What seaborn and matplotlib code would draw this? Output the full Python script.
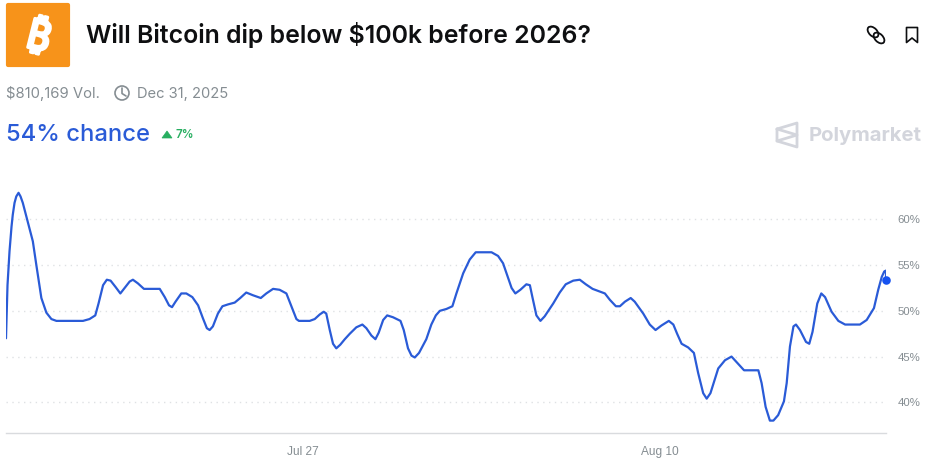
import numpy as np
import pandas as pd
import matplotlib
matplotlib.use('Agg')
import matplotlib.pyplot as plt
import matplotlib.dates as mdates
import matplotlib.patheffects as pe
import seaborn as sns
from matplotlib.patches import FancyBboxPatch, Circle, Ellipse, Polygon

# -------------------------------------------------
# data
# days relative to Jul 27, chance in percent
# -------------------------------------------------

days = [
    -12.07, -12.01, -11.93, -11.85, -11.80, -11.73, -11.66, -11.57, -11.49, -11.40,
    -11.20, -11.00, -10.86, -10.66, -10.46, -10.26, -10.06, -9.00, -8.74, -8.51,
    -8.38, -8.20,
    -8.05, -7.90, -7.70, -7.51, -7.34, -7.14, -7.01, -6.81, -6.57, -5.94,
    -5.74, -5.57, -5.45, -5.31, -5.08, -4.88, -4.64, -4.41, -4.22, -4.06,
    -3.95, -3.82, -3.62, -3.44, -3.22, -2.95, -2.73, -2.49, -2.22, -1.91,
    -1.69, -1.42, -1.16, -0.89, -0.69, -0.49, -0.39, 0.04,
    0.24, 0.44, 0.60, 0.70, 0.84, 0.97, 1.10, 1.26, 1.44, 1.64,
    1.90, 2.14, 2.30, 2.50, 2.66, 2.79, 2.97, 3.13, 3.36, 3.66,
    3.79, 3.96, 4.10, 4.23, 4.40, 4.69, 4.89, 5.07, 5.23, 5.49,
    5.73, 5.89, 6.16, 6.42, 6.66, 7.29, 7.55, 7.75, 7.95, 8.09,
    8.24, 8.44, 8.68, 8.82, 8.92, 9.08, 9.24, 9.41, 9.75, 10.01,
    10.25, 10.55, 10.81, 11.05, 11.32, 11.81, 12.01, 12.25,
    12.41, 12.61, 12.84, 13.00, 13.34, 13.60, 13.83, 14.07, 14.36, 14.54,
    14.69, 14.87, 15.13, 15.36, 15.53, 15.73, 15.87, 16.02, 16.33, 16.60,
    16.86, 17.06, 17.36, 17.93, 18.06, 18.22, 18.39, 18.53, 18.72, 18.95,
    19.06, 19.19, 19.33, 19.43, 19.59, 19.83, 19.96, 20.09, 20.28, 20.44,
    20.59, 20.85, 21.12, 21.39, 21.98, 22.25, 22.54, 22.71, 22.85, 22.95,
    23.02, 23.02,
]

chance = [
    47.0, 52.8, 56.5, 59.2, 60.5, 61.8, 62.5, 62.9, 62.5, 61.8,
    59.7, 57.6, 55.0, 51.4, 49.8, 49.1, 48.9, 48.9, 49.1, 49.5,
    50.8, 52.8,
    53.4, 53.3, 52.6, 51.9, 52.5, 53.2, 53.4, 53.0, 52.4, 52.4,
    51.5, 50.6, 50.4, 51.0, 51.9, 51.9, 51.5, 50.6, 49.2, 48.1,
    47.9, 48.3, 49.7, 50.5, 50.7, 50.9, 51.4, 52.0, 51.7, 51.4,
    51.9, 52.4, 52.3, 51.9, 50.5, 49.1, 48.9, 48.9,
    49.1, 49.6, 49.9, 49.7, 47.9, 46.4, 45.9, 46.3, 46.9, 47.5,
    48.2, 48.5, 48.1, 47.3, 46.9, 47.6, 49.0, 49.5, 49.3, 48.9,
    47.9, 45.9, 45.1, 44.9, 45.4, 46.9, 48.5, 49.5, 50.0, 50.2,
    50.5, 51.9, 54.1, 55.6, 56.4, 56.4, 56.0, 55.2, 53.6, 52.5,
    51.9, 52.3, 52.9, 52.8, 51.5, 49.5, 48.9, 49.4, 50.8, 52.0,
    52.9, 53.3, 53.4, 52.9, 52.4, 51.9, 51.2, 50.5,
    50.5, 51.0, 51.4, 51.0, 49.7, 48.5, 47.9, 48.4, 48.9, 48.5,
    47.5, 46.4, 46.0, 45.4, 43.2, 41.0, 40.4, 41.0, 43.7, 44.6,
    45.0, 44.4, 43.5, 43.5, 42.1, 39.5, 38.0, 38.0, 38.6, 40.1,
    42.1, 46.1, 48.3, 48.5, 47.9, 46.6, 46.4, 47.7, 50.8, 51.9,
    51.5, 49.9, 48.9, 48.5, 48.5, 49.0, 50.3, 52.3, 53.7, 54.3,
    54.4, 53.4,
]

y_ticks = [40, 45, 50, 55, 60]
x_tick_dates = ['2025-07-26 18:00', '2025-08-10 00:00']
x_tick_labels = ['Jul 27', 'Aug 10']

TITLE = 'Will Bitcoin dip below $100k before 2026?'

BLUE = '#2a5bd7'
DOT = '#1652f0'
GREY = '#858d92'
LOGO = '#d3d5dc'
INK = '#0e0f11'

W, H = 929, 461

# -------------------------------------------------
# chart
# -------------------------------------------------

sns.set_theme(style='white')
plt.rcParams['font.family'] = ['Inter', 'DejaVu Sans']

df = pd.DataFrame({
    'date': pd.Timestamp('2025-07-27') + pd.to_timedelta(days, unit='D'),
    'chance': chance,
})

fig = plt.figure(figsize=(W / 100, H / 100), dpi=100, facecolor='white')
ax = fig.add_axes([6 / W, (H - 432.5) / H, 880 / W, 252.5 / H])

sns.lineplot(
    data=df, x='date', y='chance', ax=ax, color=BLUE,
    linewidth=1.6, estimator=None, sort=False, zorder=3,
    solid_joinstyle='round',
)
sns.scatterplot(
    data=df.tail(1), x='date', y='chance', ax=ax, color=DOT,
    s=38, linewidth=0, zorder=4, clip_on=False,
)

ax.set_xlim(df['date'].iloc[0], df['date'].iloc[-1])
ax.set_ylim(36.7, 64.3)
ax.set_xlabel('')
ax.set_ylabel('')

ax.yaxis.tick_right()
ax.set_yticks(y_ticks)
ax.set_yticklabels([f'{v}%' for v in y_ticks], fontsize=8.2, color=GREY,
                   family='Liberation Sans')
ax.set_xticks(mdates.date2num(pd.to_datetime(x_tick_dates)))
ax.set_xticklabels(x_tick_labels, fontsize=8.6, color=GREY,
                   family='Liberation Sans')
ax.tick_params(axis='both', length=0)
ax.tick_params(axis='y', pad=8.4)
ax.tick_params(axis='x', pad=10)

ax.grid(axis='y', color='#dfe1e4', linestyle=(0, (1, 3.2)), linewidth=1.0)
ax.set_axisbelow(True)
for side in ['top', 'left', 'right']:
    ax.spines[side].set_visible(False)
ax.spines['bottom'].set_color('#d9dbde')
ax.spines['bottom'].set_linewidth(1.0)

# -------------------------------------------------
# header, drawn in pixel coordinates
# -------------------------------------------------

ov = fig.add_axes([0, 0, 1, 1], zorder=5)
ov.set_xlim(0, W)
ov.set_ylim(H, 0)
ov.axis('off')

# bitcoin icon
ov.add_patch(FancyBboxPatch(
    (8, 5), 60, 60, boxstyle='round,pad=0,rounding_size=0.1',
    facecolor='#f7931a', edgecolor='#f7931a', linewidth=3, joinstyle='round',
))
ov.text(38, 38.5, '\u20bf', color='white', fontsize=30, fontweight='bold',
        family=['Noto Sans', 'Roboto', 'Open Sans', 'Lato', 'Inter', 'DejaVu Sans'],
        rotation=-14, ha='center', va='center',
        path_effects=[pe.withStroke(linewidth=2.2, foreground='white')])

ov.text(86.5, 34.8, TITLE, color=INK, fontsize=17.9, fontweight='semibold',
        ha='left', va='center')

# link icon
for cx, cy in [(873, 32), (879, 38)]:
    ov.add_patch(Ellipse((cx, cy), 13, 8, angle=45, fill=False,
                         edgecolor=INK, linewidth=1.3))

# bookmark icon
ov.add_patch(Polygon([(906.5, 27.5), (917.5, 27.5), (917.5, 42.5), (912, 38), (906.5, 42.5)],
                     closed=True, fill=False, edgecolor=INK, linewidth=1.2,
                     joinstyle='round'))

# volume and date row
ov.text(6, 93.8, '$810,169 Vol.', color=GREY, fontsize=10.7, ha='left', va='center')
ov.add_patch(Circle((122, 93), 7, fill=False, edgecolor=GREY, linewidth=1.2))
ov.plot([122, 122, 126], [88, 93.5, 96], color=GREY, linewidth=1.2)
ov.text(137, 93.8, 'Dec 31, 2025', color=GREY, fontsize=10.6, ha='left', va='center')

# chance row
ov.text(6, 134.5, '54% chance', color=BLUE, fontsize=17.1, fontweight='medium',
        ha='left', va='center')
ov.add_patch(Polygon([(162, 138), (167, 131), (172, 138)], closed=True,
                     facecolor='#27ae60', edgecolor='#27ae60', linewidth=0.5))
ov.text(176, 135, '7%', color='#27ae60', fontsize=8.4, fontweight='semibold',
        ha='left', va='center')

# polymarket mark
ov.plot([777, 797, 797, 777, 777], [129, 123, 147, 141, 129], color=LOGO, linewidth=2,
        solid_joinstyle='round')
ov.plot([777, 797, 777], [129, 135, 141], color=LOGO, linewidth=2)
ov.text(809, 136, 'Polymarket', color=LOGO, fontsize=14.6, fontweight='bold',
        ha='left', va='center')

fig.savefig('out.png', dpi=100, facecolor='white')
